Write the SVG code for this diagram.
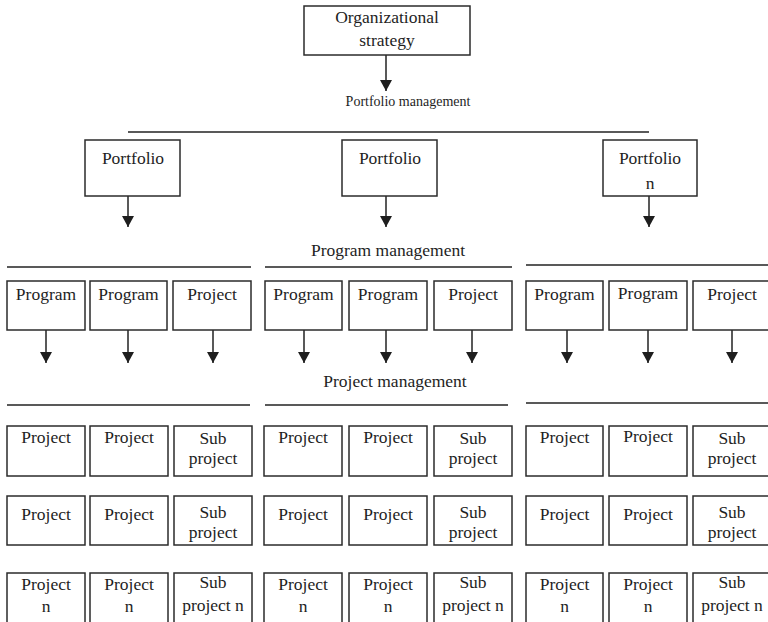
<svg xmlns="http://www.w3.org/2000/svg" width="768" height="622" viewBox="0 0 768 622">
  <style>
    .box { fill: #ffffff; stroke: #2b2b2b; stroke-width: 1.5; }
    .rule { stroke: #222222; stroke-width: 1.5; fill: none; }
    .link { stroke: #222222; stroke-width: 1.5; fill: none; marker-end: url(#arrow); }
    text { font-family: "Liberation Serif", "Times New Roman", serif; fill: #1e1e1e; text-anchor: middle; }
    .t { font-size: 17.5px; }
    .lbl { font-size: 17.5px; }
    .lbl-sm { font-size: 14px; }
  </style>
  <defs>
    <marker id="arrow" markerUnits="userSpaceOnUse" viewBox="0 0 11 12" refX="11" refY="6" markerWidth="11" markerHeight="12" orient="auto">
      <path d="M0,0 L11,6 L0,12 Z" fill="#1e1e1e"/>
    </marker>
  </defs>
  <rect width="768" height="622" fill="#ffffff"/>

  <!-- level labels and rules -->
  <g id="labels">
    <text class="lbl-sm" x="408" y="106">Portfolio management</text>
    <text class="lbl" x="388" y="256">Program management</text>
    <text class="lbl" x="395" y="387">Project management</text>
    <line class="rule" x1="128" y1="132" x2="649" y2="132"/>
    <line class="rule" x1="7" y1="267" x2="251" y2="267"/>
    <line class="rule" x1="265" y1="267" x2="512" y2="267"/>
    <line class="rule" x1="526" y1="265" x2="768" y2="265"/>
    <line class="rule" x1="7" y1="405" x2="250" y2="405"/>
    <line class="rule" x1="265" y1="405" x2="508" y2="405"/>
    <line class="rule" x1="526" y1="403" x2="768" y2="403"/>
  </g>

  <!-- connectors -->
  <g id="connectors">
    <line class="link" x1="386" y1="55" x2="386" y2="91"/>
    <line class="link" x1="128" y1="196" x2="128" y2="227"/>
    <line class="link" x1="386" y1="196" x2="386" y2="227"/>
    <line class="link" x1="649" y1="196" x2="649" y2="227"/>
    <line class="link" x1="46" y1="330" x2="46" y2="363"/>
    <line class="link" x1="128" y1="330" x2="128" y2="363"/>
    <line class="link" x1="213" y1="330" x2="213" y2="363"/>
    <line class="link" x1="304" y1="330" x2="304" y2="363"/>
    <line class="link" x1="386" y1="330" x2="386" y2="363"/>
    <line class="link" x1="472" y1="330" x2="472" y2="363"/>
    <line class="link" x1="567" y1="330" x2="567" y2="363"/>
    <line class="link" x1="648" y1="330" x2="648" y2="363"/>
    <line class="link" x1="732" y1="330" x2="732" y2="363"/>
  </g>

  <!-- strategy -->
  <g id="strategy">
    <rect class="box" x="304" y="6" width="166" height="49"/>
    <text class="t" x="387" y="23">Organizational</text>
    <text class="t" x="387" y="46">strategy</text>
  </g>

  <!-- portfolios -->
  <g id="portfolio-1">
    <rect class="box" x="85" y="140" width="95" height="56"/>
    <text class="t" x="133" y="164">Portfolio</text>
  </g>
  <g id="portfolio-2">
    <rect class="box" x="342" y="140" width="95" height="56"/>
    <text class="t" x="390" y="164">Portfolio</text>
  </g>
  <g id="portfolio-n">
    <rect class="box" x="603" y="140" width="94" height="56"/>
    <text class="t" x="650" y="164">Portfolio</text>
    <text class="t" x="650" y="189">n</text>
  </g>

  <!-- programs -->
  <g id="program-1-1"><rect class="box" x="7" y="281" width="78" height="49"/><text class="t" x="46" y="300">Program</text></g>
  <g id="program-1-2"><rect class="box" x="90" y="281" width="77" height="49"/><text class="t" x="128.5" y="300">Program</text></g>
  <g id="project-1-3"><rect class="box" x="173" y="281" width="78" height="49"/><text class="t" x="212" y="300">Project</text></g>
  <g id="program-2-1"><rect class="box" x="265" y="281" width="77" height="49"/><text class="t" x="303.5" y="300">Program</text></g>
  <g id="program-2-2"><rect class="box" x="349" y="281" width="78" height="49"/><text class="t" x="388" y="300">Program</text></g>
  <g id="project-2-3"><rect class="box" x="434" y="281" width="78" height="49"/><text class="t" x="473" y="300">Project</text></g>
  <g id="program-3-1"><rect class="box" x="526" y="281" width="77" height="49"/><text class="t" x="564.5" y="300">Program</text></g>
  <g id="program-3-2"><rect class="box" x="609" y="281" width="78" height="49"/><text class="t" x="648" y="298.5">Program</text></g>
  <g id="project-3-3"><rect class="box" x="693" y="281" width="78" height="49"/><text class="t" x="732" y="300">Project</text></g>

  <!-- projects, row 1 -->
  <g id="p-1-1-1"><rect class="box" x="7" y="426" width="78" height="50"/><text class="t" x="46" y="443">Project</text></g>
  <g id="p-1-1-2"><rect class="box" x="90" y="426" width="78" height="50"/><text class="t" x="129" y="443">Project</text></g>
  <g id="p-1-1-3"><rect class="box" x="174" y="426" width="78" height="50"/><text class="t" x="213" y="444">Sub</text><text class="t" x="213" y="464">project</text></g>
  <g id="p-2-1-1"><rect class="box" x="264" y="426" width="78" height="50"/><text class="t" x="303" y="443">Project</text></g>
  <g id="p-2-1-2"><rect class="box" x="349" y="426" width="78" height="50"/><text class="t" x="388" y="443">Project</text></g>
  <g id="p-2-1-3"><rect class="box" x="434" y="426" width="78" height="50"/><text class="t" x="473" y="444">Sub</text><text class="t" x="473" y="464">project</text></g>
  <g id="p-3-1-1"><rect class="box" x="526" y="426" width="77" height="50"/><text class="t" x="564.5" y="443">Project</text></g>
  <g id="p-3-1-2"><rect class="box" x="609" y="426" width="78" height="50"/><text class="t" x="648" y="442">Project</text></g>
  <g id="p-3-1-3"><rect class="box" x="693" y="426" width="78" height="50"/><text class="t" x="732" y="444">Sub</text><text class="t" x="732" y="464">project</text></g>

  <!-- projects, row 2 -->
  <g id="p-1-2-1"><rect class="box" x="7" y="496" width="78" height="49"/><text class="t" x="46" y="520">Project</text></g>
  <g id="p-1-2-2"><rect class="box" x="90" y="496" width="78" height="49"/><text class="t" x="129" y="520">Project</text></g>
  <g id="p-1-2-3"><rect class="box" x="174" y="496" width="78" height="49"/><text class="t" x="213" y="518">Sub</text><text class="t" x="213" y="538">project</text></g>
  <g id="p-2-2-1"><rect class="box" x="264" y="496" width="78" height="49"/><text class="t" x="303" y="520">Project</text></g>
  <g id="p-2-2-2"><rect class="box" x="349" y="496" width="78" height="49"/><text class="t" x="388" y="520">Project</text></g>
  <g id="p-2-2-3"><rect class="box" x="434" y="496" width="78" height="49"/><text class="t" x="473" y="518">Sub</text><text class="t" x="473" y="538">project</text></g>
  <g id="p-3-2-1"><rect class="box" x="526" y="496" width="77" height="49"/><text class="t" x="564.5" y="520">Project</text></g>
  <g id="p-3-2-2"><rect class="box" x="609" y="496" width="78" height="49"/><text class="t" x="648" y="520">Project</text></g>
  <g id="p-3-2-3"><rect class="box" x="693" y="496" width="78" height="49"/><text class="t" x="732" y="518">Sub</text><text class="t" x="732" y="538">project</text></g>

  <!-- projects, row n -->
  <g id="p-1-n-1"><rect class="box" x="7" y="573" width="78" height="50"/><text class="t" x="46" y="590">Project</text><text class="t" x="46" y="612">n</text></g>
  <g id="p-1-n-2"><rect class="box" x="90" y="573" width="78" height="50"/><text class="t" x="129" y="590">Project</text><text class="t" x="129" y="612">n</text></g>
  <g id="p-1-n-3"><rect class="box" x="174" y="573" width="78" height="50"/><text class="t" x="213" y="588">Sub</text><text class="t" x="213" y="611">project n</text></g>
  <g id="p-2-n-1"><rect class="box" x="264" y="573" width="78" height="50"/><text class="t" x="303" y="590">Project</text><text class="t" x="303" y="612">n</text></g>
  <g id="p-2-n-2"><rect class="box" x="349" y="573" width="78" height="50"/><text class="t" x="388" y="590">Project</text><text class="t" x="388" y="612">n</text></g>
  <g id="p-2-n-3"><rect class="box" x="434" y="573" width="78" height="50"/><text class="t" x="473" y="588">Sub</text><text class="t" x="473" y="611">project n</text></g>
  <g id="p-3-n-1"><rect class="box" x="526" y="573" width="77" height="50"/><text class="t" x="564.5" y="590">Project</text><text class="t" x="564.5" y="612">n</text></g>
  <g id="p-3-n-2"><rect class="box" x="609" y="573" width="78" height="50"/><text class="t" x="648" y="590">Project</text><text class="t" x="648" y="612">n</text></g>
  <g id="p-3-n-3"><rect class="box" x="693" y="573" width="78" height="50"/><text class="t" x="732" y="588">Sub</text><text class="t" x="732" y="611">project n</text></g>
</svg>
